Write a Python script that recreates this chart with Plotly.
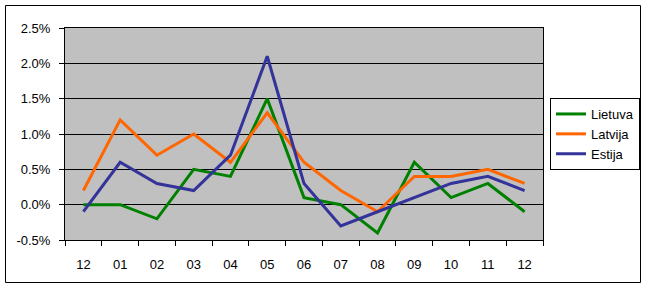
import plotly.graph_objects as go

categories = ["12", "01", "02", "03", "04", "05", "06", "07", "08", "09", "10", "11", "12"]
lietuva = [0.0, 0.0, -0.2, 0.5, 0.4, 1.5, 0.1, 0.0, -0.4, 0.6, 0.1, 0.3, -0.1]
latvija = [0.2, 1.2, 0.7, 1.0, 0.6, 1.3, 0.6, 0.2, -0.1, 0.4, 0.4, 0.5, 0.3]
estija = [-0.1, 0.6, 0.3, 0.2, 0.7, 2.1, 0.3, -0.3, -0.1, 0.1, 0.3, 0.4, 0.2]
y_ticks = [-0.5, 0.0, 0.5, 1.0, 1.5, 2.0, 2.5]
y_tick_labels = ["-0.5%", "0.0%", "0.5%", "1.0%", "1.5%", "2.0%", "2.5%"]

W, H = 647, 288
L, R, T, B = 65, 543, 28, 240

idx = list(range(len(categories)))
fig = go.Figure()
for name, vals, col in [("Lietuva", lietuva, "#008000"),
                        ("Latvija", latvija, "#FF6600"),
                        ("Estija", estija, "#333399")]:
    fig.add_trace(go.Scatter(x=idx, y=vals, mode="lines", name=name,
                             line=dict(color=col, width=3)))

def px_x(p):
    return (p - L) / (R - L)

def px_y(p):
    return (B - p) / (B - T)

fig.add_shape(type="rect", xref="paper", yref="paper",
              x0=px_x(5.5), x1=px_x(640.5), y0=px_y(282.5), y1=px_y(5.5),
              line=dict(color="black", width=1), fillcolor="rgba(0,0,0,0)", layer="below")

fig.update_layout(
    width=W, height=H,
    margin=dict(l=L, r=W - R, t=T, b=H - B, pad=0, autoexpand=False),
    paper_bgcolor="white",
    plot_bgcolor="#C0C0C0",
    font=dict(family="Liberation Sans, Arial, sans-serif", size=13, color="black"),
    showlegend=True,
    legend=dict(x=px_x(550), y=px_y(134), xanchor="left", yanchor="middle",
                bordercolor="black", borderwidth=1, bgcolor="white",
                font=dict(size=13), tracegroupgap=0, itemwidth=30),
    xaxis=dict(range=[-0.5, len(categories) - 0.5], tickvals=idx, ticktext=categories,
               ticks="", showgrid=False, zeroline=False,
               showline=True, linecolor="black", linewidth=1, mirror=True,
               ticklabelstandoff=12,
               minor=dict(tickvals=[i - 0.5 for i in range(len(categories) + 1)],
                          ticks="outside", ticklen=5, tickcolor="black", showgrid=False)),
    yaxis=dict(range=[-0.5, 2.5], tickvals=y_ticks, ticktext=y_tick_labels,
               ticks="outside", ticklen=5, tickcolor="black", tickwidth=1,
               showgrid=True, gridcolor="black", gridwidth=1, zeroline=False,
               showline=True, linecolor="black", linewidth=1, mirror=True,
               ticklabelstandoff=6),
)

fig.write_html("out.html")
